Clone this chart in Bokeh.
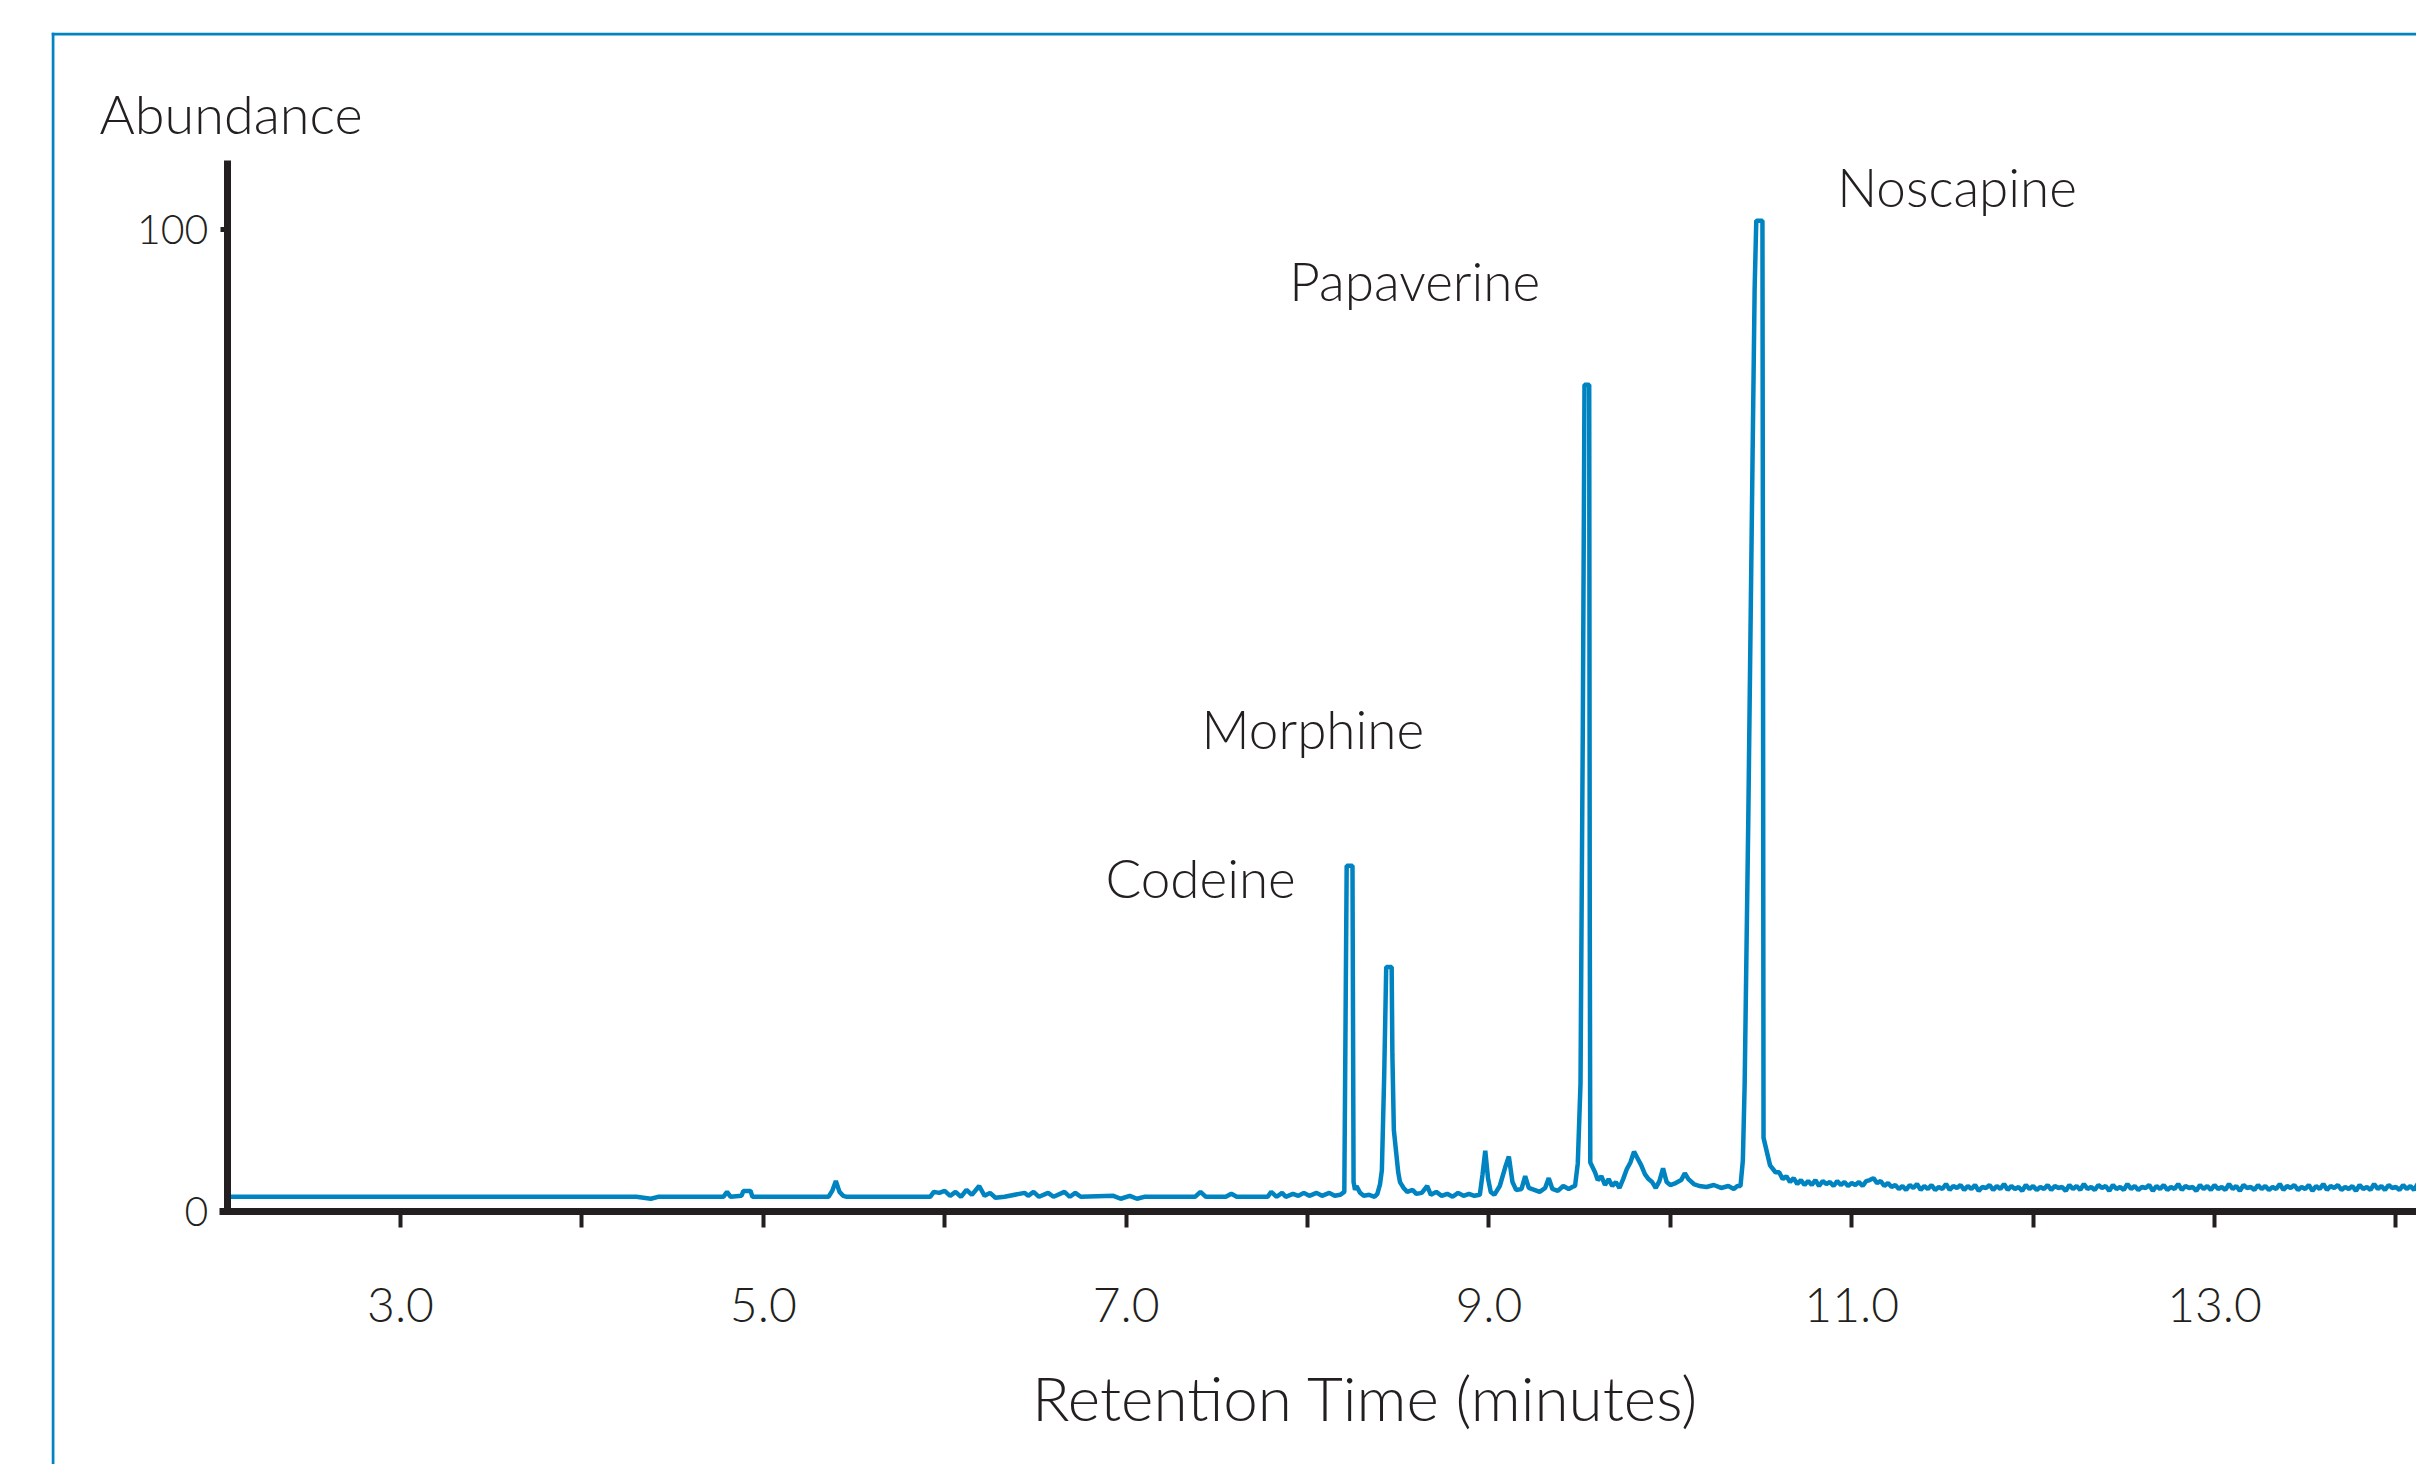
from bokeh.plotting import figure
from bokeh.models import Range1d, FixedTicker, Label, Span, ColumnDataSource
from bokeh.core.properties import value
from bokeh.embed import file_html
from bokeh.resources import INLINE

# ---------------- data ----------------
time_main = [
    2.05, 4.30, 4.38, 4.42, 4.78, 4.80, 4.82, 4.88, 4.89, 4.93, 4.94, 5.36, 5.38, 5.40, 5.42, 5.44, 5.46,
    5.92, 5.94, 5.97, 6.00, 6.03, 6.06, 6.09, 6.12, 6.15, 6.19, 6.22, 6.25, 6.28, 6.33,
    6.44, 6.46, 6.49, 6.52, 6.57, 6.60, 6.66, 6.69, 6.72, 6.75, 6.93, 6.97, 7.02, 7.06, 7.10,
    7.38, 7.41, 7.44, 7.55, 7.58, 7.61, 7.78, 7.80, 7.83, 7.86, 7.88, 7.92, 7.95, 7.98, 8.01,
    8.05, 8.08, 8.12, 8.15, 8.18,
    8.203, 8.216, 8.248, 8.254, 8.262, 8.27, 8.29, 8.31, 8.34, 8.37, 8.385, 8.40, 8.41,
    8.423, 8.434, 8.464, 8.468, 8.476, 8.49, 8.50, 8.51, 8.53, 8.55, 8.58, 8.60, 8.63, 8.66, 8.68,
    8.71, 8.74, 8.77, 8.80, 8.83, 8.86, 8.89, 8.92, 8.95, 8.965, 8.98, 8.995, 9.01, 9.03, 9.06,
    9.09, 9.11, 9.13, 9.15, 9.18, 9.20, 9.22, 9.25, 9.28, 9.31, 9.33, 9.35, 9.38, 9.41, 9.44, 9.46,
    9.475, 9.490, 9.505, 9.518, 9.527, 9.553, 9.556, 9.559, 9.585, 9.60, 9.62, 9.64, 9.66, 9.68, 9.70,
    9.72, 9.74, 9.76, 9.78, 9.80, 9.82, 9.84, 9.86, 9.88, 9.90, 9.92, 9.94, 9.96, 9.98, 10.00,
    10.03, 10.06, 10.08, 10.10, 10.13, 10.16, 10.20, 10.24, 10.28, 10.32, 10.35, 10.37,
    10.387, 10.40, 10.41, 10.43, 10.453, 10.465, 10.474, 10.508, 10.511, 10.514, 10.55,
    10.58, 10.60, 10.62, 10.64, 10.66, 10.68, 10.70, 10.72, 10.74,
    10.76, 10.78, 10.80, 10.82, 10.84, 10.86, 10.88, 10.90, 10.92, 10.94,
    10.96, 10.98, 11.00, 11.02, 11.04, 11.06, 11.08, 11.10, 11.12, 11.14,
    11.16, 11.18, 11.20, 11.22,
]
abund_main = [
    1.5, 1.5, 1.3, 1.5, 1.5, 2.0, 1.5, 1.6, 2.1, 2.1, 1.5, 1.5, 2.1, 3.1, 2.0, 1.6, 1.5,
    1.5, 2.0, 1.9, 2.1, 1.6, 2.0, 1.5, 2.2, 1.7, 2.6, 1.6, 1.9, 1.4, 1.5,
    1.9, 1.6, 2.0, 1.5, 1.9, 1.5, 2.0, 1.5, 1.9, 1.5, 1.6, 1.3, 1.6, 1.3, 1.5,
    1.5, 2.0, 1.5, 1.5, 1.8, 1.5, 1.5, 2.0, 1.5, 1.9, 1.5, 1.8, 1.6, 1.9, 1.6,
    1.9, 1.6, 1.9, 1.6, 1.7,
    2.0, 35.2, 35.2, 3.0, 2.2, 2.6, 1.9, 1.6, 1.7, 1.5, 1.8, 2.8, 4.2,
    14.0, 24.9, 24.9, 16.0, 8.3, 5.8, 4.0, 3.0, 2.4, 2.0, 2.2, 1.8, 1.9, 2.6, 1.7,
    2.0, 1.6, 1.8, 1.5, 1.9, 1.6, 1.8, 1.6, 1.7, 3.8, 6.2, 3.4, 2.0, 1.7, 2.6,
    4.5, 5.6, 3.0, 2.2, 2.3, 3.6, 2.4, 2.2, 2.0, 2.4, 3.4, 2.3, 2.1, 2.6, 2.3, 2.5,
    2.6, 4.9, 13.0, 50.0, 84.2, 84.2, 30.0, 5.0, 4.0, 3.2, 3.6, 2.7, 3.3, 2.6, 3.0,
    2.4, 3.3, 4.3, 5.0, 6.1, 5.4, 4.7, 3.8, 3.3, 3.0, 2.4, 3.1, 4.4, 3.0, 2.7,
    2.9, 3.2, 3.9, 3.3, 2.8, 2.6, 2.5, 2.7, 2.4, 2.6, 2.3, 2.6,
    2.6, 5.2, 13.0, 40.0, 76.0, 94.0, 100.9, 100.9, 60.0, 7.5, 4.7,
    4.0, 4.0, 3.3, 3.6, 3.0, 3.4, 2.8, 3.2, 2.7,
    3.1, 2.7, 3.2, 2.6, 3.1, 2.8, 3.0, 2.6, 3.1, 2.7,
    3.0, 2.6, 2.9, 2.7, 3.0, 2.6, 3.1, 3.2, 3.4, 2.9,
    3.1, 2.6, 2.9, 2.5,
]

time_tail = [
    11.24, 11.26, 11.28, 11.30, 11.32, 11.34, 11.36, 11.38, 11.40, 11.42,
    11.44, 11.46, 11.48, 11.50, 11.52, 11.54, 11.56, 11.58, 11.60, 11.62,
    11.64, 11.66, 11.68, 11.70, 11.72, 11.74, 11.76, 11.78, 11.80, 11.82,
    11.84, 11.86, 11.88, 11.90, 11.92, 11.94, 11.96, 11.98, 12.00, 12.02,
    12.04, 12.06, 12.08, 12.10, 12.12, 12.14, 12.16, 12.18, 12.20, 12.22,
    12.24, 12.26, 12.28, 12.30, 12.32, 12.34, 12.36, 12.38, 12.40, 12.42,
    12.44, 12.46, 12.48, 12.50, 12.52, 12.54, 12.56, 12.58, 12.60, 12.62,
    12.64, 12.66, 12.68, 12.70, 12.72, 12.74, 12.76, 12.78, 12.80, 12.82,
    12.84, 12.86, 12.88, 12.90, 12.92, 12.94, 12.96, 12.98, 13.00, 13.02,
    13.04, 13.06, 13.08, 13.10, 13.12, 13.14, 13.16, 13.18, 13.20, 13.22,
    13.24, 13.26, 13.28, 13.30, 13.32, 13.34, 13.36, 13.38, 13.40, 13.42,
    13.44, 13.46, 13.48, 13.50, 13.52, 13.54, 13.56, 13.58, 13.60, 13.62,
    13.64, 13.66, 13.68, 13.70, 13.72, 13.74, 13.76, 13.78, 13.80, 13.82,
    13.84, 13.86, 13.88, 13.90, 13.92, 13.94, 13.96, 13.98, 14.00, 14.02,
    14.04, 14.06, 14.08, 14.10, 14.12, 14.14, 14.16, 14.18, 14.20,
]
abund_tail = [
    2.7, 2.3, 2.6, 2.2, 2.7, 2.4, 2.8, 2.2, 2.6, 2.3,
    2.7, 2.2, 2.5, 2.3, 2.8, 2.2, 2.6, 2.4, 2.7, 2.2,
    2.6, 2.3, 2.7, 2.1, 2.5, 2.4, 2.7, 2.2, 2.6, 2.3,
    2.8, 2.2, 2.6, 2.3, 2.5, 2.1, 2.7, 2.3, 2.6, 2.2,
    2.5, 2.3, 2.7, 2.2, 2.6, 2.4, 2.5, 2.1, 2.7, 2.3,
    2.6, 2.2, 2.8, 2.3, 2.5, 2.2, 2.7, 2.4, 2.6, 2.1,
    2.7, 2.3, 2.5, 2.2, 2.8, 2.3, 2.6, 2.2, 2.5, 2.4,
    2.7, 2.1, 2.6, 2.3, 2.7, 2.2, 2.5, 2.3, 2.8, 2.2,
    2.6, 2.4, 2.5, 2.1, 2.7, 2.3, 2.6, 2.2, 2.7, 2.3,
    2.5, 2.2, 2.8, 2.3, 2.6, 2.1, 2.7, 2.4, 2.5, 2.2,
    2.7, 2.3, 2.6, 2.2, 2.5, 2.3, 2.8, 2.2, 2.6, 2.4,
    2.7, 2.2, 2.5, 2.3, 2.7, 2.1, 2.6, 2.3, 2.8, 2.2,
    2.6, 2.4, 2.7, 2.2, 2.5, 2.3, 2.6, 2.1, 2.7, 2.3,
    2.5, 2.2, 2.8, 2.3, 2.6, 2.2, 2.7, 2.4, 2.5, 2.2,
    2.7, 2.3, 2.6, 2.2, 2.8, 2.3, 2.6, 2.2, 2.7,
]

time_min = time_main + time_tail
abundance = abund_main + abund_tail

peak_names = ["Codeine", "Morphine", "Papaverine", "Noscapine"]
label_time = [6.886, 7.416, 7.90, 10.92]
label_abund = [34.0, 49.2, 94.8, 104.4]

x_title = "Retention Time (minutes)"
y_title = "Abundance"
x_major_ticks = [3, 5, 7, 9, 11, 13]
x_minor_ticks = [4, 6, 8, 10, 12, 14]
x_tick_labels = {3: "3.0", 5: "5.0", 7: "7.0", 9: "9.0", 11: "11.0", 13: "13.0"}
y_ticks = [0, 100]

# ---------------- styling ----------------
BLUE = "#0083c1"
INK = "#231f20"
FONT = "Lato Light"

X0, X1 = 1.0761, 14.1136
Y0, Y1 = -25.76, 120.06

p = figure(width=2416, height=1464, x_range=Range1d(X0, X1), y_range=Range1d(Y0, Y1),
           output_backend="svg", toolbar_location=None,
           min_border_left=51, min_border_top=32, min_border_right=0, min_border_bottom=0)
p.outline_line_color = None
p.xgrid.visible = False
p.ygrid.visible = False
p.background_fill_color = "white"
p.border_fill_color = "white"

# blue frame (left and top edges)
p.add_layout(Span(location=X0 + 0.008, dimension="height", line_color=BLUE, line_width=3))
p.add_layout(Span(location=Y1 - 0.15, dimension="width", line_color=BLUE, line_width=3))

# x axis
xa = p.xaxis[0]
xa.fixed_location = 0
xa.bounds = (2.0, 14.65)
xa.ticker = FixedTicker(ticks=x_major_ticks, minor_ticks=x_minor_ticks)
xa.major_label_overrides = x_tick_labels
xa.axis_line_width = 7
xa.axis_line_color = INK
xa.major_tick_line_color = INK
xa.minor_tick_line_color = INK
xa.major_tick_line_width = 4
xa.minor_tick_line_width = 4
xa.major_tick_out = 16
xa.major_tick_in = 0
xa.minor_tick_out = 16
xa.minor_tick_in = 0
xa.major_label_text_font = FONT
xa.major_label_text_font_size = "48px"
xa.major_label_text_color = INK
xa.major_label_standoff = 60

# y axis
ya = p.yaxis[0]
ya.fixed_location = 2.045
ya.bounds = (0, 107)
ya.ticker = FixedTicker(ticks=y_ticks)
ya.axis_line_width = 7
ya.axis_line_color = INK
ya.major_tick_line_color = INK
ya.major_tick_line_width = 5
ya.major_tick_out = 7
ya.major_tick_in = 0
ya.minor_tick_line_color = None
ya.major_label_text_font = FONT
ya.major_label_text_font_size = "41px"
ya.major_label_text_color = INK
ya.major_label_standoff = 12

# chromatogram trace
p.line(time_min, abundance, line_color=BLUE, line_width=4.5)

# peak names
src = ColumnDataSource(dict(x=label_time, y=label_abund, t=peak_names))
p.text(x="x", y="y", text="t", source=src, text_font=value(FONT), text_font_size="53px",
       text_color=INK, text_baseline="middle", text_align="left")

# titles
p.add_layout(Label(x=1.341, y=111.8, text=y_title, text_font=FONT, text_font_size="54px",
                   text_color=INK, text_baseline="middle", text_align="left"))
p.add_layout(Label(x=8.32, y=-18.84, text=x_title, text_font=FONT, text_font_size="62px",
                   text_color=INK, text_baseline="middle", text_align="center"))

open("out.html", "w").write(file_html(p, INLINE))
